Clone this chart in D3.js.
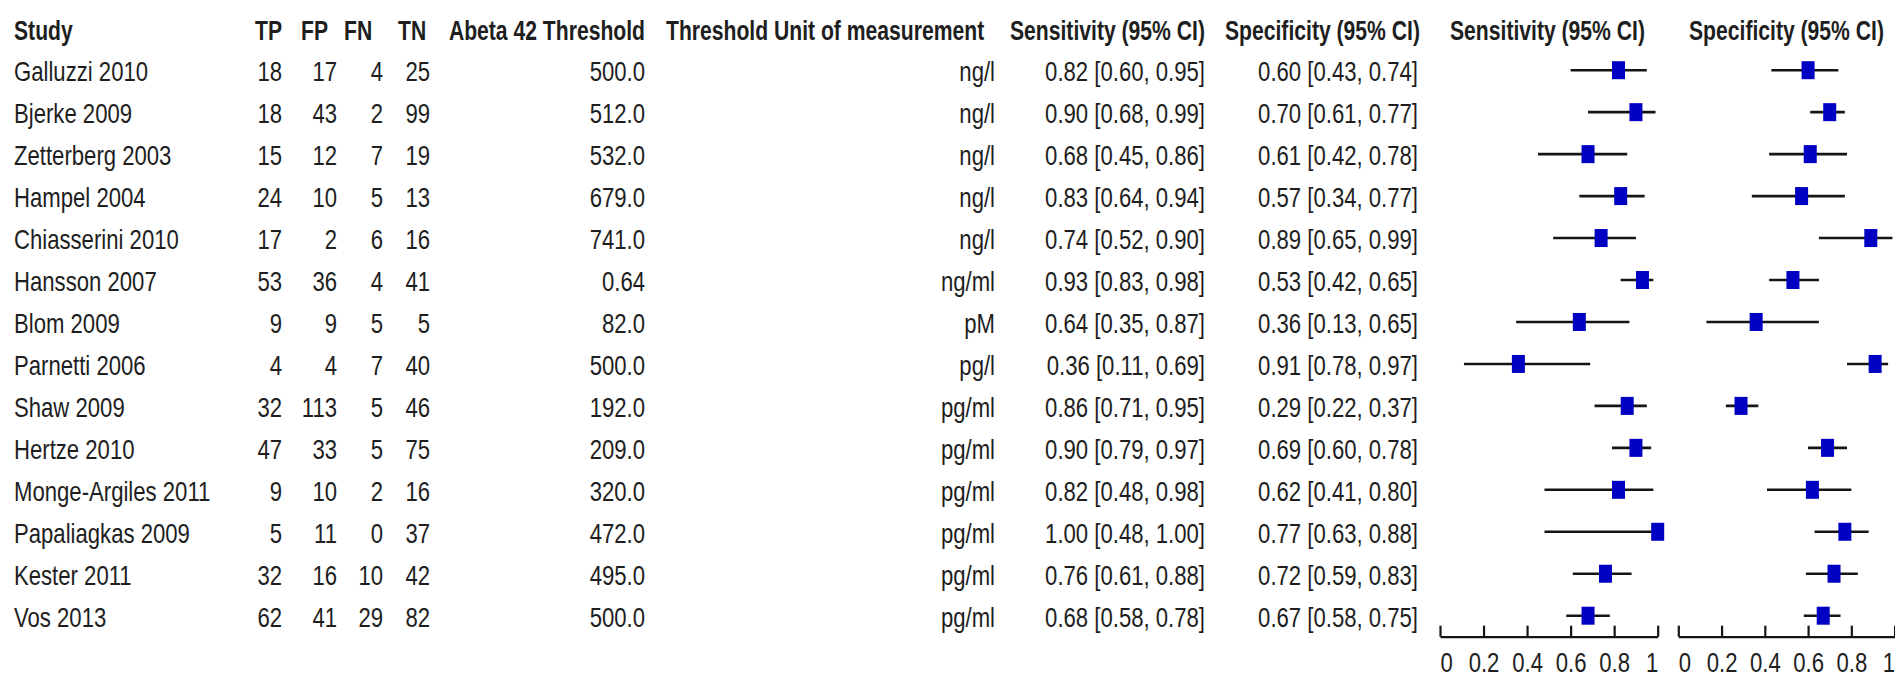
<!DOCTYPE html>
<html>
<head>
<meta charset="utf-8">
<script src="https://cdn.jsdelivr.net/npm/d3@7"></script>
<style>
  html, body { margin: 0; padding: 0; background: #fff; }
  svg { display: block; }
  text { font-family: "Liberation Sans", Arial, sans-serif; fill: #1e1e1e; }
</style>
</head>
<body>
<svg id="chart" width="1895" height="676"></svg>
<script>
// ---------------- data ----------------
const studies = ["Galluzzi 2010", "Bjerke 2009", "Zetterberg 2003", "Hampel 2004", "Chiasserini 2010",
  "Hansson 2007", "Blom 2009", "Parnetti 2006", "Shaw 2009", "Hertze 2010", "Monge-Argiles 2011",
  "Papaliagkas 2009", "Kester 2011", "Vos 2013"];
const tp = [18, 18, 15, 24, 17, 53, 9, 4, 32, 47, 9, 5, 32, 62];
const fp = [17, 43, 12, 10, 2, 36, 9, 4, 113, 33, 10, 11, 16, 41];
const fn = [4, 2, 7, 5, 6, 4, 5, 7, 5, 5, 2, 0, 10, 29];
const tn = [25, 99, 19, 13, 16, 41, 5, 40, 46, 75, 16, 37, 42, 82];
const thresholds = ["500.0", "512.0", "532.0", "679.0", "741.0", "0.64", "82.0", "500.0", "192.0",
  "209.0", "320.0", "472.0", "495.0", "500.0"];
const units = ["ng/l", "ng/l", "ng/l", "ng/l", "ng/l", "ng/ml", "pM", "pg/l", "pg/ml", "pg/ml",
  "pg/ml", "pg/ml", "pg/ml", "pg/ml"];
const sens   = [0.82, 0.90, 0.68, 0.83, 0.74, 0.93, 0.64, 0.36, 0.86, 0.90, 0.82, 1.00, 0.76, 0.68];
const sensLo = [0.60, 0.68, 0.45, 0.64, 0.52, 0.83, 0.35, 0.11, 0.71, 0.79, 0.48, 0.48, 0.61, 0.58];
const sensHi = [0.95, 0.99, 0.86, 0.94, 0.90, 0.98, 0.87, 0.69, 0.95, 0.97, 0.98, 1.00, 0.88, 0.78];
const spec   = [0.60, 0.70, 0.61, 0.57, 0.89, 0.53, 0.36, 0.91, 0.29, 0.69, 0.62, 0.77, 0.72, 0.67];
const specLo = [0.43, 0.61, 0.42, 0.34, 0.65, 0.42, 0.13, 0.78, 0.22, 0.60, 0.41, 0.63, 0.59, 0.58];
const specHi = [0.74, 0.77, 0.78, 0.77, 0.99, 0.65, 0.65, 0.97, 0.37, 0.78, 0.80, 0.88, 0.83, 0.75];
const headers = ["Study", "TP", "FP", "FN", "TN", "Abeta 42 Threshold", "Threshold Unit of measurement",
  "Sensitivity (95% CI)", "Specificity (95% CI)", "Sensitivity (95% CI)", "Specificity (95% CI)"];
const tickValues = [0, 0.2, 0.4, 0.6, 0.8, 1];
const tickLabels = ["0", "0.2", "0.4", "0.6", "0.8", "1"];

// ---------------- layout ----------------
const svg = d3.select("#chart");
svg.append("rect").attr("width", 1895).attr("height", 676).attr("fill", "#fff");

const BODY_FS = 27, BODY_SX = 0.82;
const HEAD_FS = 28, HEAD_SX = 0.755;
const f2 = d3.format(".2f");

const y = d3.scalePoint().domain(studies).range([70.2, 615.7]);
const xSens = d3.scaleLinear().domain([0, 1]).range([1440, 1657.7]);
const xSpec = d3.scaleLinear().domain([0, 1]).range([1678.3, 1894.6]);

function txt(g, x, yy, s, anchor, bold) {
  return g.append("text")
    .attr("transform", `translate(${x},${yy}) scale(${bold ? HEAD_SX : BODY_SX},1)`)
    .attr("text-anchor", anchor)
    .attr("font-size", bold ? HEAD_FS : BODY_FS)
    .attr("font-weight", bold ? "bold" : "normal")
    .text(s);
}

// header row
const hg = svg.append("g");
const headerPos = [
  [14, "start"], [255, "start"], [301, "start"], [344, "start"], [398, "start"],
  [645, "end"], [666, "start"], [1010, "start"], [1225, "start"], [1450, "start"], [1689, "start"]
];
headers.forEach((h, i) => txt(hg, headerPos[i][0], 40, h, headerPos[i][1], true));

// table columns
const rows = svg.append("g");
const base = d => y(d) + 11;
studies.forEach((s, i) => {
  const yy = base(s);
  txt(rows, 14, yy, s, "start");
  txt(rows, 282, yy, String(tp[i]), "end");
  txt(rows, 337, yy, String(fp[i]), "end");
  txt(rows, 383, yy, String(fn[i]), "end");
  txt(rows, 430, yy, String(tn[i]), "end");
  txt(rows, 645, yy, thresholds[i], "end");
  txt(rows, 995, yy, units[i], "end");
  txt(rows, 1205, yy, `${f2(sens[i])} [${f2(sensLo[i])}, ${f2(sensHi[i])}]`, "end");
  txt(rows, 1418, yy, `${f2(spec[i])} [${f2(specLo[i])}, ${f2(specHi[i])}]`, "end");
});

// forest plots
function forest(x, est, lo, hi) {
  const g = svg.append("g");
  g.selectAll("line.ci").data(studies).join("line")
    .attr("class", "ci")
    .attr("x1", (d, i) => x(lo[i])).attr("x2", (d, i) => x(hi[i]))
    .attr("y1", d => y(d)).attr("y2", d => y(d))
    .attr("stroke", "#151515").attr("stroke-width", 2.6);
  g.selectAll("rect.pt").data(studies).join("rect")
    .attr("class", "pt")
    .attr("x", (d, i) => x(est[i]) - 6.5).attr("y", d => y(d) - 9)
    .attr("width", 13).attr("height", 18)
    .attr("fill", "#0000c2");
}
forest(xSens, sens, sensLo, sensHi);
forest(xSpec, spec, specLo, specHi);

// axes
function drawAxis(x) {
  const ax = d3.axisBottom(x)
    .tickValues(tickValues)
    .tickFormat((d, i) => tickLabels[i])
    .tickSizeInner(-11).tickSizeOuter(0).tickPadding(16);
  const g = svg.append("g").attr("transform", "translate(0,636.7)").call(ax);
  g.select(".domain").attr("stroke", "#151515").attr("stroke-width", 2.2);
  g.selectAll(".tick line").attr("stroke", "#151515").attr("stroke-width", 2.2);
  const n = tickValues.length;
  g.selectAll(".tick text")
    .attr("font-size", BODY_FS)
    .attr("font-family", "'Liberation Sans', Arial, sans-serif")
    .attr("fill", "#1e1e1e")
    .attr("transform", `scale(${BODY_SX},1)`)
    .attr("text-anchor", (d, i) => i === 0 ? "start" : (i === n - 1 ? "end" : "middle"));
}
drawAxis(xSens);
drawAxis(xSpec);
</script>
</body>
</html>
